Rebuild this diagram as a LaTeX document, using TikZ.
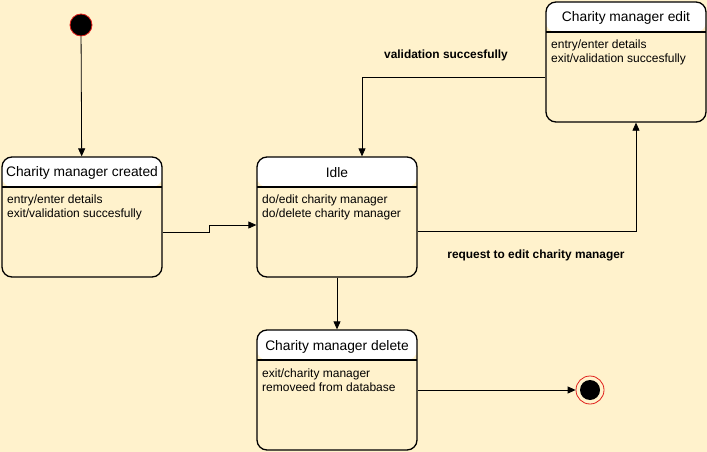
\documentclass[tikz,border=0pt]{standalone}
\usepackage{fontspec}
\setmainfont{Liberation Sans}
\usetikzlibrary{arrows.meta,calc}
\definecolor{bgc}{HTML}{FFF2CC}
\definecolor{redc}{HTML}{E0201B}
\tikzset{
  statebox/.style={draw, line width=1.3pt, rounded corners=10pt, minimum width=160pt,
    minimum height=120pt, fill=bgc, inner sep=0pt,
    path picture={
      \fill[white] (path picture bounding box.north west) rectangle ([yshift=-30pt]path picture bounding box.north east);
      \draw[line width=1.3pt] ([yshift=-30pt]path picture bounding box.north west) -- ([yshift=-30pt]path picture bounding box.north east);
    }},
  titletext/.style={font=\fontsize{13.8}{16}\selectfont, inner sep=0pt},
  bodytext/.style={font=\fontsize{12}{14}\selectfont, align=left, inner sep=0pt, anchor=north west},
  lbl/.style={font=\fontsize{11.9}{13}\selectfont\bfseries, inner sep=0pt},
  arr/.style={draw, line width=0.8pt, -{Triangle[length=8pt,width=7pt]}},
}
\begin{document}
\begin{tikzpicture}[x=1pt,y=-1pt]
\fill[bgc] (0,0) rectangle (707,452);
\useasboundingbox (0,0) rectangle (707,452);

% states
\node[statebox] (created) at (82,217) {};
\node[titletext] (createdT) at (82,173) {Charity manager created};
\node[bodytext] (createdB) at (7,195) {entry/enter details\\exit/validation succesfully};

\node[statebox] (idle) at (337,217) {};
\node[titletext] (idleT) at (337,173) {Idle};
\node[bodytext] (idleB) at (262,195) {do/edit charity manager\\do/delete charity manager};

\node[statebox] (edit) at (626,62) {};
\node[titletext] (editT) at (626,18) {Charity manager edit};
\node[bodytext] (editB) at (551,40) {entry/enter details\\exit/validation succesfully};

\node[statebox] (delete) at (337,390) {};
\node[titletext] (deleteT) at (337,347) {Charity manager delete};
\node[bodytext] (deleteB) at (262,369) {exit/charity manager\\removeed from database};

% start / end
\node[circle, fill=black, draw=redc, line width=0.8pt, minimum size=22pt, inner sep=0pt] (start) at (81,25) {};
\node[circle, draw=redc, line width=0.8pt, minimum size=28pt, inner sep=0pt] (endo) at (590,390) {};
\node[circle, fill=black, minimum size=20pt, inner sep=0pt] (endi) at (590,390) {};

% connectors
\draw[arr] (start) -- (created);
\coordinate (jog) at (209,225);
\draw[arr] ([yshift=-15pt]created.east) -| (jog) -- (idle.west |- jog);
\coordinate (editin) at ([xshift=10pt]edit.south);
\draw[arr] ([yshift=-14pt]idle.east) -| (editin);
\coordinate (idlein) at ([xshift=25pt]idle.north);
\draw[arr] ([yshift=-15pt]edit.west) -| (idlein);
\draw[arr] (idle) -- (delete);
\draw[arr] (delete.east) -- (endo.west);

% labels
\node[lbl] (l1) at (446,55) {validation succesfully};
\node[lbl] (l2) at (536,255) {request to edit charity manager};
\end{tikzpicture}
\end{document}
